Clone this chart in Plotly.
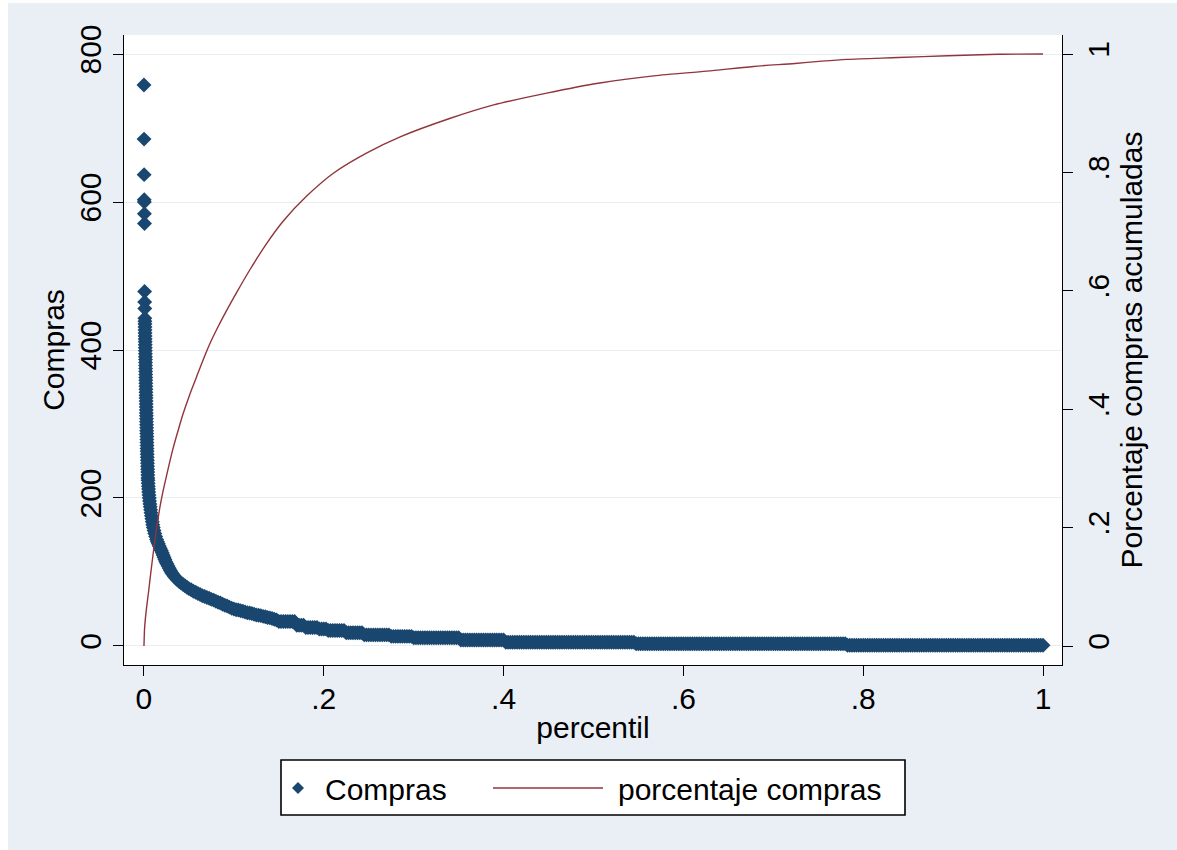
import plotly.graph_objects as go

# ---- Compras by percentile: customers ranked from largest to smallest purchases ----
head_percentil = [
    0.0000, 0.0001, 0.0002, 0.0003, 0.0004, 0.0005, 0.0006, 0.0007, 0.0008, 0.0009,
    0.00100, 0.00105, 0.00110, 0.00115, 0.00120, 0.00125, 0.00130, 0.00135, 0.00140, 0.00145,
    0.00150, 0.00155, 0.00160, 0.00165, 0.00170, 0.00175, 0.00180, 0.00185, 0.00190, 0.00195,
    0.00200, 0.00205, 0.00210, 0.00215, 0.00220, 0.00225, 0.00230, 0.00235, 0.00240, 0.00245,
    0.0025, 0.0026, 0.0026, 0.0027, 0.0028, 0.0028, 0.0029, 0.0030, 0.0030, 0.0031,
    0.0032, 0.0032, 0.0033, 0.0034, 0.0034, 0.0035, 0.0036, 0.0037, 0.0038, 0.0039,
    0.0040, 0.0041, 0.0042, 0.0043, 0.0044, 0.0045, 0.0047, 0.0049, 0.0051, 0.0053,
    0.0056, 0.0059, 0.0062, 0.0066, 0.0070, 0.0074, 0.0078, 0.0083, 0.0088, 0.0093,
    0.0098, 0.0104, 0.0112, 0.0120, 0.0130, 0.0141, 0.0150, 0.0160, 0.0170, 0.0181,
    0.0193, 0.0203, 0.0213, 0.0223, 0.0233, 0.0243, 0.0255, 0.0268, 0.0281, 0.0294,
    0.0308, 0.0323, 0.0339, 0.0356, 0.0372, 0.0390, 0.0410, 0.0432, 0.0455, 0.0478,
]
head_compras = [
    758, 685, 637, 603, 600, 584, 571, 479, 465, 456,
    443, 439, 435, 431, 427, 423, 419, 415, 411, 407,
    403, 399, 395, 391, 387, 383, 379, 375, 371, 367,
    363, 359, 355, 351, 347, 343, 339, 335, 331, 327,
    323, 319, 315, 311, 307, 303, 299, 295, 291, 287,
    283, 279, 275, 271, 267, 263, 259, 255, 251, 247,
    243, 239, 235, 231, 227, 224, 220, 216, 212, 208,
    204, 200, 196, 192, 188, 184, 180, 176, 172, 168,
    164, 160, 156, 152, 148, 144, 141, 138, 135, 132,
    129, 126, 123, 120, 117, 114, 111, 108, 105, 102,
    99, 96.5, 94, 91.5, 89.5, 87.5, 85.5, 83.5, 81.5, 79.5,
]

tail_percentil = [
    0.0500, 0.0525, 0.0550, 0.0575, 0.0600, 0.0625, 0.0650, 0.0675,
    0.0700, 0.0725, 0.0750, 0.0775, 0.0800, 0.0825, 0.0850, 0.0875,
    0.0900, 0.0925, 0.0950, 0.0975, 0.1000, 0.1025, 0.1050, 0.1075,
    0.1100, 0.1125, 0.1150, 0.1175, 0.1200, 0.1225, 0.1250, 0.1275,
    0.1300, 0.1325, 0.1350, 0.1375, 0.1400, 0.1425, 0.1450, 0.1475,
    0.1500, 0.1525, 0.1550, 0.1575, 0.1600, 0.1625, 0.1650, 0.1675,
    0.1700, 0.1725, 0.1750, 0.1775, 0.1800, 0.1825, 0.1850, 0.1875,
    0.1900, 0.1925, 0.1950, 0.1975, 0.2000, 0.2025, 0.2050, 0.2075,
    0.2100, 0.2125, 0.2150, 0.2175, 0.2200, 0.2225, 0.2250, 0.2275,
    0.2300, 0.2325, 0.2350, 0.2375, 0.2400, 0.2425, 0.2450, 0.2475,
    0.2500, 0.2525, 0.2550, 0.2575, 0.2600, 0.2625, 0.2650, 0.2675,
    0.2700, 0.2725, 0.2750, 0.2775, 0.2800, 0.2825, 0.2850, 0.2875,
    0.2900, 0.2925, 0.2950, 0.2975, 0.3000, 0.3025, 0.3050, 0.3075,
    0.3100, 0.3125, 0.3150, 0.3175, 0.3200, 0.3225, 0.3250, 0.3275,
    0.3300, 0.3325, 0.3350, 0.3375, 0.3400, 0.3425, 0.3450, 0.3475,
    0.3500, 0.3525, 0.3550, 0.3575, 0.3600, 0.3625, 0.3650, 0.3675,
    0.3700, 0.3725, 0.3750, 0.3775, 0.3800, 0.3825, 0.3850, 0.3875,
    0.3900, 0.3925, 0.3950, 0.3975, 0.4000, 0.4025, 0.4050, 0.4075,
    0.4100, 0.4125, 0.4150, 0.4175, 0.4200, 0.4225, 0.4250, 0.4275,
    0.4300, 0.4325, 0.4350, 0.4375, 0.4400, 0.4425, 0.4450, 0.4475,
    0.4500, 0.4525, 0.4550, 0.4575, 0.4600, 0.4625, 0.4650, 0.4675,
    0.4700, 0.4725, 0.4750, 0.4775, 0.4800, 0.4825, 0.4850, 0.4875,
    0.4900, 0.4925, 0.4950, 0.4975, 0.5000, 0.5025, 0.5050, 0.5075,
    0.5100, 0.5125, 0.5150, 0.5175, 0.5200, 0.5225, 0.5250, 0.5275,
    0.5300, 0.5325, 0.5350, 0.5375, 0.5400, 0.5425, 0.5450, 0.5475,
    0.5500, 0.5525, 0.5550, 0.5575, 0.5600, 0.5625, 0.5650, 0.5675,
    0.5700, 0.5725, 0.5750, 0.5775, 0.5800, 0.5825, 0.5850, 0.5875,
    0.5900, 0.5925, 0.5950, 0.5975, 0.6000, 0.6025, 0.6050, 0.6075,
    0.6100, 0.6125, 0.6150, 0.6175, 0.6200, 0.6225, 0.6250, 0.6275,
    0.6300, 0.6325, 0.6350, 0.6375, 0.6400, 0.6425, 0.6450, 0.6475,
    0.6500, 0.6525, 0.6550, 0.6575, 0.6600, 0.6625, 0.6650, 0.6675,
    0.6700, 0.6725, 0.6750, 0.6775, 0.6800, 0.6825, 0.6850, 0.6875,
    0.6900, 0.6925, 0.6950, 0.6975, 0.7000, 0.7025, 0.7050, 0.7075,
    0.7100, 0.7125, 0.7150, 0.7175, 0.7200, 0.7225, 0.7250, 0.7275,
    0.7300, 0.7325, 0.7350, 0.7375, 0.7400, 0.7425, 0.7450, 0.7475,
    0.7500, 0.7525, 0.7550, 0.7575, 0.7600, 0.7625, 0.7650, 0.7675,
    0.7700, 0.7725, 0.7750, 0.7775, 0.7800, 0.7825, 0.7850, 0.7875,
    0.7900, 0.7925, 0.7950, 0.7975, 0.8000, 0.8025, 0.8050, 0.8075,
    0.8100, 0.8125, 0.8150, 0.8175, 0.8200, 0.8225, 0.8250, 0.8275,
    0.8300, 0.8325, 0.8350, 0.8375, 0.8400, 0.8425, 0.8450, 0.8475,
    0.8500, 0.8525, 0.8550, 0.8575, 0.8600, 0.8625, 0.8650, 0.8675,
    0.8700, 0.8725, 0.8750, 0.8775, 0.8800, 0.8825, 0.8850, 0.8875,
    0.8900, 0.8925, 0.8950, 0.8975, 0.9000, 0.9025, 0.9050, 0.9075,
    0.9100, 0.9125, 0.9150, 0.9175, 0.9200, 0.9225, 0.9250, 0.9275,
    0.9300, 0.9325, 0.9350, 0.9375, 0.9400, 0.9425, 0.9450, 0.9475,
    0.9500, 0.9525, 0.9550, 0.9575, 0.9600, 0.9625, 0.9650, 0.9675,
    0.9700, 0.9725, 0.9750, 0.9775, 0.9800, 0.9825, 0.9850, 0.9875,
    0.9900, 0.9925, 0.9950, 0.9975, 1.0000,
]
tail_compras = [
    77.5, 76, 74, 72.5, 71, 69.5, 68, 67,
    65.5, 64.5, 63, 62, 60.5, 59, 58, 56.5,
    55, 54, 52.5, 51, 50, 49, 48.5, 47.5,
    47, 46, 45, 44.5, 44, 43, 42, 41.5,
    41, 40, 39.5, 38.5, 38, 37, 36, 35,
    33, 33, 33, 33, 33, 33, 33, 33,
    28, 28, 28, 28, 25, 25, 25, 25,
    25, 25, 23, 23, 23, 23, 21, 21,
    21, 21, 21, 21, 21, 21, 18, 18,
    18, 18, 18, 18, 18, 18, 15, 15,
    15, 15, 15, 15, 15, 15, 15, 15,
    15, 15, 13, 13, 13, 13, 13, 13,
    13, 13, 13, 13, 11, 11, 11, 11,
    11, 11, 11, 11, 11, 11, 11, 11,
    11, 11, 11, 11, 11, 11, 11, 11,
    11, 8, 8, 8, 8, 8, 8, 8,
    8, 8, 8, 8, 8, 8, 8, 8,
    8, 8, 8, 8, 8, 5, 5, 5,
    5, 5, 5, 5, 5, 5, 5, 5,
    5, 5, 5, 5, 5, 5, 5, 5,
    5, 5, 5, 5, 5, 5, 5, 5,
    5, 5, 5, 5, 5, 5, 5, 5,
    5, 5, 5, 5, 5, 5, 5, 5,
    5, 5, 5, 5, 5, 5, 5, 5,
    5, 5, 5, 5, 5, 5, 5, 3,
    3, 3, 3, 3, 3, 3, 3, 3,
    3, 3, 3, 3, 3, 3, 3, 3,
    3, 3, 3, 3, 3, 3, 3, 3,
    3, 3, 3, 3, 3, 3, 3, 3,
    3, 3, 3, 3, 3, 3, 3, 3,
    3, 3, 3, 3, 3, 3, 3, 3,
    3, 3, 3, 3, 3, 3, 3, 3,
    3, 3, 3, 3, 3, 3, 3, 3,
    3, 3, 3, 3, 3, 3, 3, 3,
    3, 3, 3, 3, 3, 3, 3, 3,
    3, 3, 3, 3, 3, 3, 3, 3,
    3, 3, 3, 3, 3, 1, 1, 1,
    1, 1, 1, 1, 1, 1, 1, 1,
    1, 1, 1, 1, 1, 1, 1, 1,
    1, 1, 1, 1, 1, 1, 1, 1,
    1, 1, 1, 1, 1, 1, 1, 1,
    1, 1, 1, 1, 1, 1, 1, 1,
    1, 1, 1, 1, 1, 1, 1, 1,
    1, 1, 1, 1, 1, 1, 1, 1,
    1, 1, 1, 1, 1, 1, 1, 1,
    1, 1, 1, 1, 1, 1, 1, 1,
    1, 1, 1, 1, 1, 1, 1, 1,
    1, 1, 1, 1, 1,
]

# ---- Cumulative share of purchases ----
cum_percentil = [
    0.0000, 0.0007, 0.0015, 0.0030, 0.0050, 0.0067, 0.0090, 0.0122, 0.0150,
    0.0178, 0.0210, 0.0250, 0.0290, 0.0326, 0.0380, 0.0437, 0.0510, 0.0586,
    0.0660, 0.0734, 0.0820, 0.0920, 0.1030, 0.1180, 0.1360, 0.1550, 0.1810,
    0.2110, 0.2480, 0.2850, 0.3400, 0.3890, 0.4480, 0.5070, 0.5670, 0.6260,
    0.6780, 0.7240, 0.7540, 0.7820, 0.8390, 0.8940, 0.9500, 1.0000,
]
cum_share = [
    0.000, 0.030, 0.045, 0.066, 0.090, 0.112, 0.141, 0.179, 0.208,
    0.235, 0.260, 0.287, 0.313, 0.335, 0.364, 0.393, 0.425, 0.455,
    0.484, 0.511, 0.538, 0.567, 0.597, 0.636, 0.679, 0.718, 0.760,
    0.799, 0.833, 0.860, 0.891, 0.914, 0.934, 0.951, 0.963, 0.971,
    0.979, 0.984, 0.988, 0.991, 0.994, 0.997, 0.9995, 1.000,
]

left_ticks = [0, 200, 400, 600, 800]
left_labels = ["0", "200", "400", "600", "800"]
right_ticks = [0, 0.2, 0.4, 0.6, 0.8, 1]
right_labels = ["0", ".2", ".4", ".6", ".8", "1"]
x_ticks = [0, 0.2, 0.4, 0.6, 0.8, 1]
x_labels = ["0", ".2", ".4", ".6", ".8", "1"]

NAVY = "#1a476f"
MAROON = "#90353b"
BG = "#eaeff6"
GRID = "#e9eef4"
FONT = "Liberation Sans, Arial, sans-serif"
FS = 30

fig = go.Figure()
fig.add_trace(go.Scatter(
    x=head_percentil + tail_percentil,
    y=head_compras + tail_compras,
    mode="markers",
    name="Compras",
    marker=dict(symbol="diamond", size=11.5, color=NAVY, line=dict(width=0)),
    yaxis="y",
    showlegend=False,
))
fig.add_trace(go.Scatter(
    x=cum_percentil,
    y=cum_share,
    mode="lines",
    name="porcentaje compras",
    line=dict(color=MAROON, width=1.4, shape="spline", smoothing=0.8),
    yaxis="y2",
    showlegend=False,
))

axis_common = dict(
    showline=True, linecolor="black", linewidth=1.3,
    ticks="outside", ticklen=10, tickwidth=1.3, tickcolor="black",
    tickfont=dict(family=FONT, size=FS, color="black"),
    zeroline=False,
)


# Convert page pixels to paper coordinates of the plot area
def px_x(px):
    return (px - 124) / 938


def px_y(py):
    return (665 - py) / 630


shapes = [
    # white page edge around the graph region
    dict(type="rect", xref="paper", yref="paper", x0=px_x(0), x1=px_x(8), y0=px_y(850), y1=px_y(0),
         fillcolor="white", line=dict(width=0), layer="above"),
    dict(type="rect", xref="paper", yref="paper", x0=px_x(0), x1=px_x(1177), y0=px_y(3), y1=px_y(0),
         fillcolor="white", line=dict(width=0), layer="above"),
    # legend frame
    dict(type="rect", xref="paper", yref="paper", x0=px_x(281), x1=px_x(905), y0=px_y(815), y1=px_y(760),
         fillcolor="white", line=dict(color="black", width=1.6), layer="above"),
    # legend key: diamond marker
    dict(type="path", xref="paper", yref="paper",
         path=(f"M{px_x(292)},{px_y(788)} L{px_x(298)},{px_y(782)} "
               f"L{px_x(304)},{px_y(788)} L{px_x(298)},{px_y(794)} Z"),
         fillcolor=NAVY, line=dict(width=0), layer="above"),
    # legend key: line
    dict(type="line", xref="paper", yref="paper", x0=px_x(493), x1=px_x(603), y0=px_y(788), y1=px_y(788),
         line=dict(color=MAROON, width=1.6), layer="above"),
]

annotations = [
    dict(text="Compras", xref="paper", yref="paper", x=px_x(323), y=px_y(789),
         xanchor="left", yanchor="middle", showarrow=False,
         font=dict(family=FONT, size=FS, color="black")),
    dict(text="porcentaje compras", xref="paper", yref="paper", x=px_x(616), y=px_y(789),
         xanchor="left", yanchor="middle", showarrow=False,
         font=dict(family=FONT, size=FS, color="black")),
]

fig.update_layout(
    width=1177, height=850,
    margin=dict(l=124, r=115, t=35, b=185),
    paper_bgcolor=BG,
    plot_bgcolor="white",
    font=dict(family=FONT, size=FS, color="black"),
    showlegend=False,
    shapes=shapes,
    annotations=annotations,
    xaxis=dict(
        range=[-0.0222, 1.0211],
        tickvals=x_ticks, ticktext=x_labels,
        ticklabelstandoff=-3,
        showgrid=False,
        title=dict(text="percentil", font=dict(family=FONT, size=FS), standoff=2),
        **axis_common,
    ),
    yaxis=dict(
        range=[-25.7, 825.7],
        tickvals=left_ticks, ticktext=left_labels,
        tickangle=-90,
        showgrid=True, gridcolor=GRID, gridwidth=1,
        title=dict(text="Compras", font=dict(family=FONT, size=FS), standoff=0),
        **axis_common,
    ),
    yaxis2=dict(
        range=[-0.0321, 1.0321],
        tickvals=right_ticks, ticktext=right_labels,
        tickangle=-90,
        overlaying="y", side="right", anchor="x",
        showgrid=False,
        title=dict(text="Porcentaje compras acumuladas", font=dict(family=FONT, size=FS), standoff=0),
        **axis_common,
    ),
)

fig.write_html("out.html")
